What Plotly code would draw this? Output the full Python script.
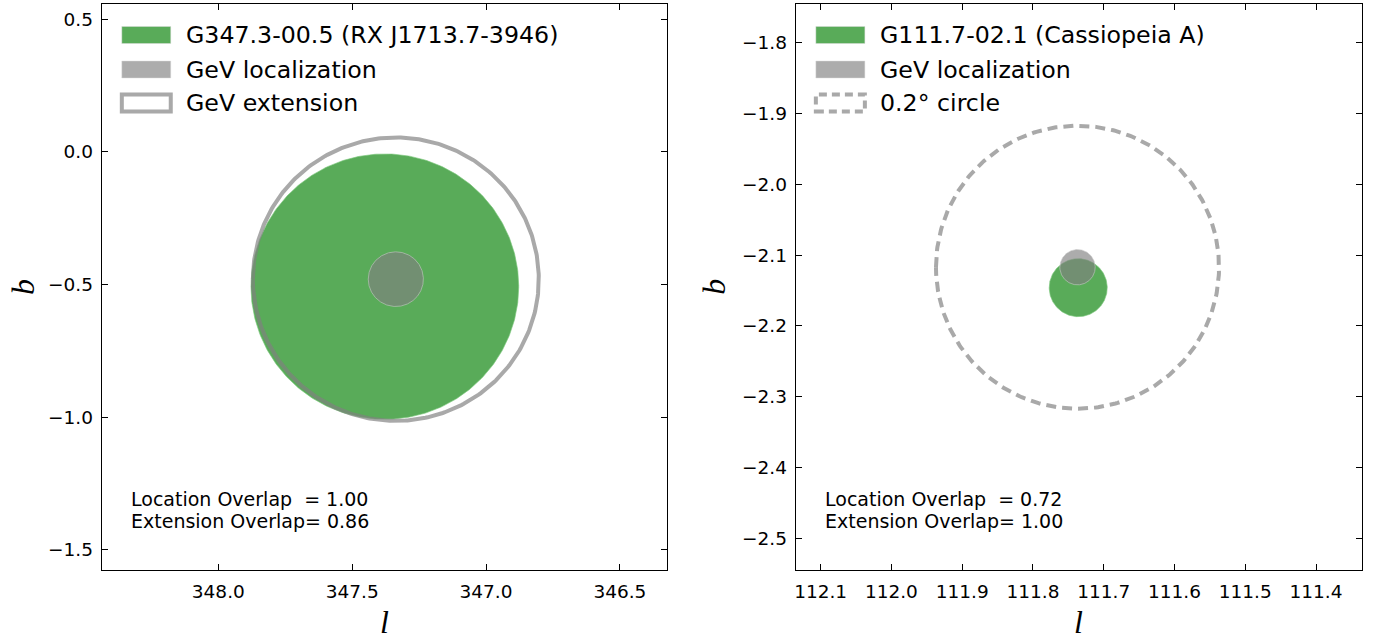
import numpy as np
import plotly.graph_objects as go

# ---- data (degrees, Galactic coordinates) ----
left_names = ["G347.3-00.5 (RX J1713.7-3946)", "GeV localization", "GeV extension"]
left_l = [347.378, 347.337, 347.337]
left_b = [-0.508, -0.480, -0.480]
left_r = [0.500, 0.103, 0.534]

right_names = ["G111.7-02.1 (Cassiopeia A)", "GeV localization", "0.2° circle"]
right_l = [111.736, 111.737, 111.737]
right_b = [-2.146, -2.117, -2.117]
right_r = [0.041, 0.025, 0.200]

left_text = ["Location Overlap  = 1.00", "Extension Overlap= 0.86"]
right_text = ["Location Overlap  = 0.72", "Extension Overlap= 1.00"]

left_xticks = [348.0, 347.5, 347.0, 346.5]
left_yticks = [0.5, 0.0, -0.5, -1.0, -1.5]
right_xticks = [112.1, 112.0, 111.9, 111.8, 111.7, 111.6, 111.5, 111.4]
right_yticks = [-1.8, -1.9, -2.0, -2.1, -2.2, -2.3, -2.4, -2.5]

x_label = "l"
y_label = "b"

GREEN = "rgb(89,171,89)"
GREY_FILL = "rgba(128,128,128,0.65)"
GREY_LINE = "rgba(128,128,128,0.68)"
CIRCLE_DASH = "10px,6px"

theta = np.linspace(0, 2 * np.pi, 400)


def circle(l, b, r):
    return l + r * np.cos(theta), b + r * np.sin(theta)


fig = go.Figure()


def add_panel(names, ls, bs, rs, xa, ya, dashed):
    x, y = circle(ls[0], bs[0], rs[0])
    fig.add_trace(go.Scatter(x=x, y=y, mode="lines", fill="toself", fillcolor=GREEN,
                             line=dict(color="rgba(125,200,125,0.8)", width=0.8),
                             name=names[0], xaxis=xa, yaxis=ya, showlegend=False,
                             hoverinfo="skip"))
    x, y = circle(ls[1], bs[1], rs[1])
    fig.add_trace(go.Scatter(x=x, y=y, mode="lines", fill="toself", fillcolor=GREY_FILL,
                             line=dict(color="rgba(205,205,205,0.7)", width=0.8),
                             name=names[1], xaxis=xa, yaxis=ya, showlegend=False,
                             hoverinfo="skip"))
    x, y = circle(ls[2], bs[2], rs[2])
    fig.add_trace(go.Scatter(x=x, y=y, mode="lines",
                             line=dict(color=GREY_LINE, width=4,
                                       dash=CIRCLE_DASH if dashed else "solid"),
                             name=names[2], xaxis=xa, yaxis=ya, showlegend=False,
                             hoverinfo="skip"))


add_panel(left_names, left_l, left_b, left_r, "x", "y", False)
add_panel(right_names, right_l, right_b, right_r, "x2", "y2", True)

W, H = 1382, 639
dom_left = [100 / W, 666 / W]
dom_right = [795 / W, 1362 / W]
dom_y = [(H - 570) / H, (H - 4) / H]
P = 566.0  # plot size in px

tickfont = dict(family="DejaVu Sans", size=18.5, color="black")
titlefont = dict(family="Liberation Serif", size=32, color="black")

axis_common = dict(showgrid=False, zeroline=False, showline=True, linecolor="black",
                   linewidth=1.3, mirror="ticks", ticks="inside", ticklen=6,
                   tickwidth=1.1, tickcolor="black", tickfont=tickfont)
xax = dict(ticklabelstandoff=5, **axis_common)
yax = dict(ticklabelstandoff=4, **axis_common)

fig.update_layout(
    width=W, height=H,
    margin=dict(l=0, r=0, t=0, b=0),
    paper_bgcolor="white", plot_bgcolor="white",
    showlegend=False,
    xaxis=dict(domain=dom_left, range=[348.435, 346.324], anchor="y",
               tickvals=left_xticks, ticktext=[f"{v:.1f}" for v in left_xticks], **xax),
    yaxis=dict(domain=dom_y, range=[-1.576, 0.557], anchor="x",
               tickvals=left_yticks, ticktext=[f"{v:.1f}".replace("-", "−") for v in left_yticks], **yax),
    xaxis2=dict(domain=dom_right, range=[112.135, 111.335], anchor="y2",
                tickvals=right_xticks, ticktext=[f"{v:.1f}" for v in right_xticks], **xax),
    yaxis2=dict(domain=dom_y, range=[-2.545, -1.745], anchor="x2",
                tickvals=right_yticks, ticktext=[f"{v:.1f}".replace("-", "−") for v in right_yticks], **yax),
)

# ---- axis labels (italic math-style) ----
for xa, ya, bx in [("x", "y", -79 / P), ("x2", "y2", -82 / P)]:
    fig.add_annotation(text=f"<i>{x_label}</i>", xref=f"{xa} domain", yref=f"{ya} domain",
                       x=0.5, y=-52 / P, xanchor="center", yanchor="middle",
                       showarrow=False, font=titlefont)
    fig.add_annotation(text=f"<i>{y_label}</i>", xref=f"{xa} domain", yref=f"{ya} domain",
                       x=bx, y=0.5, xanchor="center", yanchor="middle", textangle=-90,
                       showarrow=False, font=titlefont)

# ---- legends (drawn in each panel's axis-domain frame) ----
legfont = dict(family="DejaVu Sans", size=23.7, color="black")
row_dy = [31, 65.5, 99]          # row centres, px below the top frame
sw_x0, sw_x1, sw_h = 20 / P, 69 / P, 17 / P


def add_legend(xa, ya, names, dashed):
    xref, yref = f"{xa} domain", f"{ya} domain"
    fills = [GREEN, "rgba(128,128,128,0.65)", "white"]
    for i, name in enumerate(names):
        yc = 1 - row_dy[i] / P
        if i < 2:
            fig.add_shape(type="rect", xref=xref, yref=yref, x0=sw_x0, x1=sw_x1,
                          y0=yc - sw_h / 2, y1=yc + sw_h / 2, fillcolor=fills[i],
                          line=dict(width=0.8, color="rgba(220,220,220,0.6)"), layer="above")
        else:
            fig.add_shape(type="rect", xref=xref, yref=yref, x0=sw_x0, x1=sw_x1,
                          y0=yc - sw_h / 2, y1=yc + sw_h / 2, fillcolor="rgba(0,0,0,0)",
                          line=dict(width=4, color=GREY_LINE,
                                    dash="8px,5px" if dashed else "solid"), layer="above")
        fig.add_annotation(text=name, xref=xref, yref=yref, x=82.5 / P, y=yc,
                           xanchor="left", yanchor="middle", showarrow=False, font=legfont)


add_legend("x", "y", left_names, False)
add_legend("x2", "y2", right_names, True)

annfont = dict(family="DejaVu Sans", size=19, color="black")
line_dy = [494.6, 517.2]
for xa, ya, lines in [("x", "y", left_text), ("x2", "y2", right_text)]:
    for j, line in enumerate(lines):
        fig.add_annotation(text=line, xref=f"{xa} domain", yref=f"{ya} domain",
                           x=28 / P, y=1 - line_dy[j] / P, borderpad=0,
                           xanchor="left", yanchor="middle", showarrow=False, font=annfont)

fig.write_html("out.html", config={"displayModeBar": False},
               post_script="document.body.style.margin='0';")
